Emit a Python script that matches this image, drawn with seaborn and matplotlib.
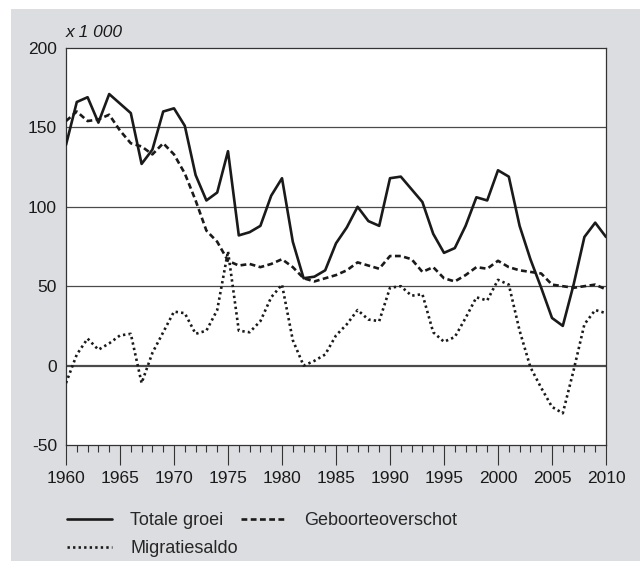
import numpy as np
import pandas as pd
import matplotlib
matplotlib.use("Agg")
import matplotlib.pyplot as plt
import seaborn as sns
from matplotlib.patches import Rectangle
from matplotlib.ticker import MultipleLocator

years = list(range(1960, 2011))
totale_groei = [139, 166, 169, 153, 171, 165, 159, 127, 136, 160,
                162, 151, 120, 104, 109, 135, 82, 84, 88, 107,
                118, 78, 55, 56, 60, 77, 87, 100, 91, 88,
                118, 119, 111, 103, 83, 71, 74, 88, 106, 104,
                123, 119, 88, 67, 49, 30, 25, 51, 81, 90, 81]
geboorteoverschot = [154, 160, 154, 155, 158, 148, 140, 138, 133, 140,
                     133, 121, 104, 85, 78, 66, 63, 64, 62, 64,
                     67, 62, 55, 53, 55, 57, 60, 65, 63, 61,
                     69, 69, 67, 59, 62, 55, 53, 57, 62, 61,
                     66, 62, 60, 59, 58, 51, 50, 49, 50, 51, 48]
migratiesaldo = [-11, 7, 17, 10, 14, 19, 20, -11, 8, 21,
                 34, 33, 20, 22, 35, 72, 22, 21, 28, 43,
                 51, 16, 0, 3, 7, 19, 26, 35, 29, 28,
                 49, 50, 44, 45, 21, 15, 18, 30, 43, 41,
                 54, 51, 22, -1, -14, -26, -30, -3, 26, 35, 33]
series_names = ["Totale groei", "Geboorteoverschot", "Migratiesaldo"]
y_ticks = [-50, 0, 50, 100, 150, 200]
x_ticks = list(range(1960, 2011, 5))
unit_label = "x 1 000"

plt.rcParams["axes.unicode_minus"] = False
sns.set_style("white")
plt.rcParams["font.family"] = ["Liberation Sans", "DejaVu Sans"]

W, H = 640, 561
fig = plt.figure(figsize=(W / 100, H / 100), dpi=100, facecolor="white")
bg = Rectangle((11 / W, 0), 1 - 11 / W, (H - 9) / H,
               transform=fig.transFigure, facecolor="#dcdde0",
               edgecolor="none", zorder=-10)
fig.patches.append(bg)

ax = fig.add_axes([66 / W, 1 - 445 / H, (606 - 66) / W, (445 - 48) / H])
ax.set_zorder(5)
ax.set_facecolor("white")

df = pd.DataFrame({"jaar": years, "Totale groei": totale_groei,
                   "Geboorteoverschot": geboorteoverschot,
                   "Migratiesaldo": migratiesaldo})

styles = {
    "Totale groei": dict(linestyle="-"),
    "Geboorteoverschot": dict(linestyle=(0, (2.2, 1.3))),
    "Migratiesaldo": dict(linestyle=(0, (0.9, 1.2))),
}
for name in series_names:
    sns.lineplot(data=df, x="jaar", y=name, ax=ax, color="#1a1a1a", lw=1.9,
                 label=name, zorder=3, **styles[name])

# grid lines
for yv in y_ticks:
    if yv in (50, 100, 150):
        ax.axhline(yv, color="#4a4a4a", lw=0.9, zorder=1)
    elif yv == 0:
        ax.axhline(yv, color="#4a4a4a", lw=1.6, zorder=1)

ax.set_xlim(1960, 2010)
ax.set_ylim(-50, 200)
ax.set_yticks(y_ticks)
ax.set_yticklabels([str(v) for v in y_ticks])
ax.set_xticks(x_ticks)
ax.set_xticklabels([str(v) for v in x_ticks])
ax.xaxis.set_minor_locator(MultipleLocator(1))
ax.tick_params(axis="x", which="major", direction="out", length=14.5,
               width=0.8, color="#333333", labelsize=12.5, pad=4, bottom=True)
ax.tick_params(axis="x", which="minor", direction="out", length=5,
               width=0.8, color="#333333", bottom=True)
ax.tick_params(axis="y", length=0, labelsize=12.5, pad=6.5)
for lab in ax.get_xticklabels() + ax.get_yticklabels():
    lab.set_color("#1a1a1a")
for sp in ax.spines.values():
    sp.set_color("#333333")
    sp.set_linewidth(0.9)
ax.set_xlabel("")
ax.set_ylabel("")

ax.text(0.0, 1.0 + 8 / 397, unit_label, transform=ax.transAxes, ha="left",
        va="bottom", fontsize=12.5, style="italic", color="#1a1a1a")

handles, labels = ax.get_legend_handles_labels()
hmap = dict(zip(labels, handles))
order = ["Totale groei", "Migratiesaldo", "Geboorteoverschot"]
ax.legend([hmap[k] for k in order], order, ncol=2, frameon=False,
          loc="upper left", bbox_to_anchor=(67 / W, 1 - 512 / H),
          bbox_transform=fig.transFigure, borderaxespad=0, borderpad=0,
          handlelength=2.5, handletextpad=1.0, columnspacing=0.15,
          labelspacing=0.6, fontsize=13)

fig.savefig("out.png", dpi=100, facecolor=fig.get_facecolor())
